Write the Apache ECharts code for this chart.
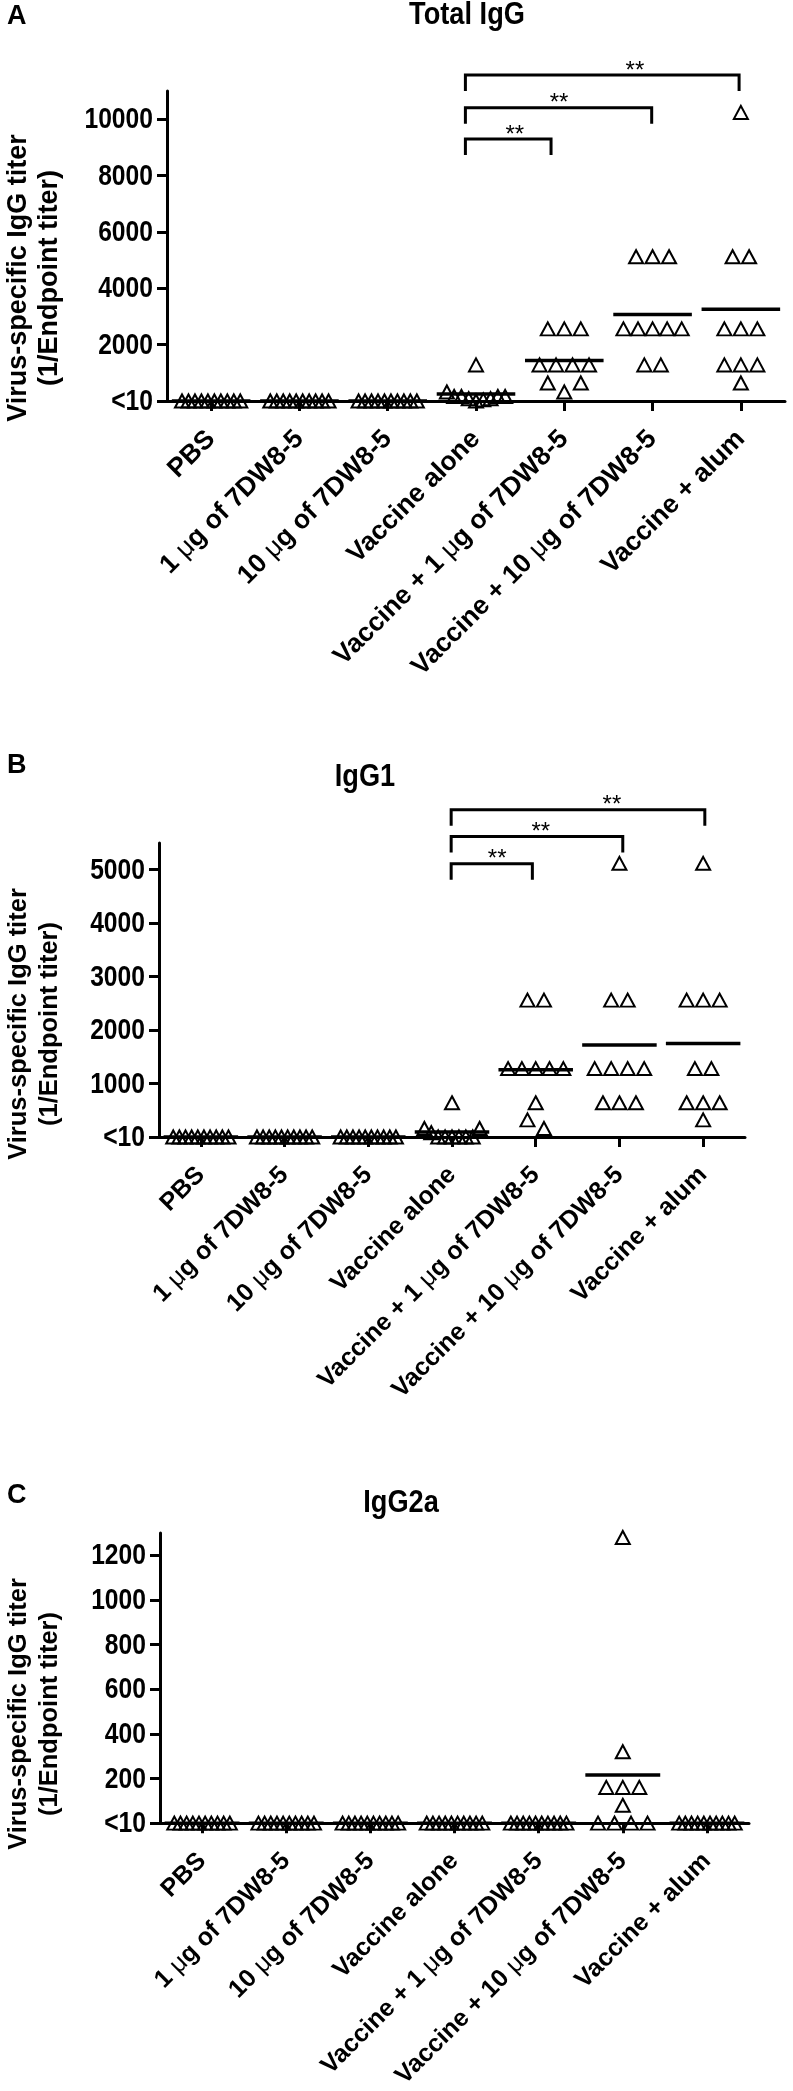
<!DOCTYPE html>
<html><head><meta charset="utf-8">
<script src="https://cdn.jsdelivr.net/npm/echarts@6/dist/echarts.min.js"></script>
<style>html,body{margin:0;padding:0;background:#fff}#c{width:793px;height:2091px}</style>
</head><body><div id="c"></div>
<script>
// ---------------- data ----------------
const categories = ['PBS', '1 μg of 7DW8-5', '10 μg of 7DW8-5', 'Vaccine alone',
  'Vaccine + 1 μg of 7DW8-5', 'Vaccine + 10 μg of 7DW8-5', 'Vaccine + alum'];

// Panel A: Total IgG (0 = "<10")
const totalIgG = [
  [0, 0, 0, 0, 0, 0, 0, 0, 0, 0],
  [0, 0, 0, 0, 0, 0, 0, 0, 0, 0],
  [0, 0, 0, 0, 0, 0, 0, 0, 0, 0],
  [1280, 320, 160, 160, 160, 160, 80, 80, 40, 0],
  [2560, 2560, 2560, 1280, 1280, 1280, 1280, 640, 640, 320],
  [5120, 5120, 5120, 2560, 2560, 2560, 2560, 2560, 1280, 1280],
  [10240, 5120, 5120, 2560, 2560, 2560, 1280, 1280, 1280, 640]
];
const totalIgGMean = [0, 0, 0, 250, 1440, 3070, 3260];

// Panel B: IgG1
const igG1 = [
  [0, 0, 0, 0, 0, 0, 0, 0, 0, 0],
  [0, 0, 0, 0, 0, 0, 0, 0, 0, 0],
  [0, 0, 0, 0, 0, 0, 0, 0, 0, 0],
  [640, 160, 160, 80, 0, 0, 0, 0, 0, 0],
  [2560, 2560, 1280, 1280, 1280, 1280, 1280, 640, 320, 160],
  [5120, 2560, 2560, 1280, 1280, 1280, 1280, 640, 640, 640],
  [5120, 2560, 2560, 2560, 1280, 1280, 640, 640, 640, 320]
];
const igG1Mean = [0, 0, 0, 95, 1260, 1720, 1750];

// Panel C: IgG2a
const igG2a = [
  [0, 0, 0, 0, 0, 0, 0, 0, 0, 0],
  [0, 0, 0, 0, 0, 0, 0, 0, 0, 0],
  [0, 0, 0, 0, 0, 0, 0, 0, 0, 0],
  [0, 0, 0, 0, 0, 0, 0, 0, 0, 0],
  [0, 0, 0, 0, 0, 0, 0, 0, 0, 0],
  [1280, 320, 160, 160, 160, 80, 0, 0, 0, 0],
  [0, 0, 0, 0, 0, 0, 0, 0, 0, 0]
];
const igG2aMean = [0, 0, 0, 0, 0, 216, 0];

// Tick values / labels
const ticksTotal = [0, 2000, 4000, 6000, 8000, 10000];
const tickLabelsTotal = ['<10', '2000', '4000', '6000', '8000', '10000'];
const ticksIgG1 = [0, 1000, 2000, 3000, 4000, 5000];
const tickLabelsIgG1 = ['<10', '1000', '2000', '3000', '4000', '5000'];
const ticksIgG2a = [0, 200, 400, 600, 800, 1000, 1200];
const tickLabelsIgG2a = ['<10', '200', '400', '600', '800', '1000', '1200'];

// Significance brackets: [left end, right end, bar level, star position] (x in group units)
const bracketsTotal = [[3.38, 4.35, 9300, 3.94], [3.38, 5.49, 10410, 4.44], [3.38, 6.48, 11570, 5.30]];
const bracketsIgG1 = [[3.49, 4.46, 5110, 4.04], [3.49, 5.54, 5620, 4.56], [3.49, 6.52, 6120, 5.41]];
const bracketText = '**';
const yTitle = 'Virus-specific IgG titer\n(1/Endpoint titer)';

// ---------------- layout / style ----------------
const SANS = "'Liberation Sans',Arial,Helvetica,sans-serif";
const panels = [
  { letter: 'A', title: 'Total IgG', data: totalIgG, mean: totalIgGMean, ticks: ticksTotal, tickLabels: tickLabelsTotal,
    max: 11000, brackets: bracketsTotal, grid: { left: 167, top: 91, width: 618, height: 310 },
    letterY: 3, titleX: 467, titleY: -1, yTitleY: 278, labelFont: 26.5, yTitleFont: 27 },
  { letter: 'B', title: 'IgG1', data: igG1, mean: igG1Mean, ticks: ticksIgG1, tickLabels: tickLabelsIgG1,
    max: 5500, brackets: bracketsIgG1, grid: { left: 159, top: 843, width: 586, height: 294 },
    letterY: 752, titleX: 365, titleY: 761, yTitleY: 1024, labelFont: 25, yTitleFont: 25.5 },
  { letter: 'C', title: 'IgG2a', data: igG2a, mean: igG2aMean, ticks: ticksIgG2a, tickLabels: tickLabelsIgG2a,
    max: 1300, brackets: [], grid: { left: 160, top: 1533, width: 589, height: 295 },
    letterY: 1482, titleX: 401, titleY: 1487, yTitleY: 1714, labelFont: 25, yTitleFont: 25.5 }
];

const STEP_PX = 16.5, MAX_SPAN = 0.66, ROW_GAP = 12, MEAN_HALF = 0.445, NARROW_SCALE = 0.85;

function layoutGroup(vals, gi, pxPerUnit, bandPx) {
  const sorted = vals.slice().sort((a, b) => b - a);
  const clusters = []; let cur = [];
  sorted.forEach(v => {
    if (cur.length && (cur[cur.length - 1] - v) * pxPerUnit >= ROW_GAP) { clusters.push(cur); cur = []; }
    cur.push(v);
  });
  if (cur.length) clusters.push(cur);
  const pts = [];
  clusters.forEach(c => {
    const n = c.length;
    const step = n > 1 ? Math.min(STEP_PX, MAX_SPAN * bandPx / (n - 1)) : 0;
    const offs = [];
    for (let k = 0; k < n; k++) offs.push((k - (n - 1) / 2) * step);
    offs.sort((a, b) => (Math.abs(b) - Math.abs(a)) || (a - b));
    c.forEach((v, j) => pts.push([gi + 0.5 + offs[j] / bandPx, v]));
  });
  return pts;
}

const grids = [], xAxes = [], yAxes = [], series = [], graphics = [];
panels.forEach((p, k) => {
  grids.push(Object.assign({ containLabel: false }, p.grid));
  const bandPx = p.grid.width / categories.length;
  const pxPerUnit = p.grid.height / p.max;
  xAxes.push({
    type: 'category', gridIndex: k, data: categories, boundaryGap: true,
    axisLine: { lineStyle: { color: '#000', width: 3 } },
    axisTick: { show: true, alignWithLabel: true, length: 10, lineStyle: { color: '#000', width: 3 } },
    axisLabel: {
      interval: 0, rotate: 45, margin: 34, color: '#000',
      fontFamily: SANS, fontWeight: 'bold', fontSize: p.labelFont,
      formatter: v => v.replace('μ', '{m|μ}'),
      rich: { m: { fontFamily: SANS, fontWeight: 'normal', fontSize: p.labelFont, color: '#000' } }
    },
    splitLine: { show: false }
  });
  xAxes.push({ type: 'value', gridIndex: k, min: 0, max: categories.length, show: false });
  yAxes.push({
    type: 'value', gridIndex: k, min: 0, max: p.max, interval: p.ticks[1],
    axisLine: { show: true, lineStyle: { color: '#000', width: 3 } },
    axisTick: { show: true, length: 10, lineStyle: { color: '#000', width: 3 }, customValues: p.ticks },
    axisLabel: { show: false },
    splitLine: { show: false }
  });
  // y tick labels (condensed bold, placed through the y scale)
  series.push({
    type: 'custom', xAxisIndex: 2 * k + 1, yAxisIndex: k, clip: false, z: 5, silent: true,
    data: p.ticks.map(v => [0, v]),
    renderItem: (params, api) => {
      const c = api.coord([0, api.value(1)]);
      return { type: 'text', x: c[0] - 14, y: c[1] + 1, scaleX: NARROW_SCALE,
        style: { text: p.tickLabels[params.dataIndex], align: 'right', verticalAlign: 'middle',
          fontSize: 29, fontWeight: 'bold', fontFamily: SANS, fill: '#000' } };
    }
  });
  // points
  const pts = [];
  p.data.forEach((vals, gi) => layoutGroup(vals, gi, pxPerUnit, bandPx).forEach(q => pts.push(q)));
  series.push({
    type: 'scatter', xAxisIndex: 2 * k + 1, yAxisIndex: k, data: pts, clip: false, z: 4,
    symbol: 'triangle', symbolSize: [14, 13],
    itemStyle: { color: 'rgba(0,0,0,0)', borderColor: '#000', borderWidth: 2, opacity: 1 },
    emphasis: { disabled: true }, silent: true
  });
  // mean lines
  series.push({
    type: 'custom', xAxisIndex: 2 * k + 1, yAxisIndex: k, clip: false, z: 5, silent: true,
    data: p.mean.map((m, i) => [i, m]),
    renderItem: (params, api) => {
      const i = api.value(0), m = api.value(1);
      const a = api.coord([i + 0.5 - MEAN_HALF, m]), b = api.coord([i + 0.5 + MEAN_HALF, m]);
      return { type: 'line', shape: { x1: a[0], y1: a[1], x2: b[0], y2: b[1] }, style: { stroke: '#000', lineWidth: 3.5 } };
    }
  });
  // brackets
  if (p.brackets.length) {
    series.push({
      type: 'custom', xAxisIndex: 2 * k + 1, yAxisIndex: k, clip: false, z: 5, silent: true,
      data: p.brackets.map(b => [b[0], b[2]]),
      renderItem: (params, api) => {
        const b = p.brackets[params.dataIndex];
        const L = api.coord([b[0], b[2]]), R = api.coord([b[1], b[2]]), S = api.coord([b[3], b[2]]);
        const leg = 16;
        return { type: 'group', children: [
          { type: 'polyline', shape: { points: [[L[0], L[1] + leg], [L[0], L[1]], [R[0], R[1]], [R[0], R[1] + leg]] },
            style: { stroke: '#000', lineWidth: 3, fill: null } },
          { type: 'text', x: S[0], y: S[1] - 4,
            style: { text: bracketText, align: 'center', verticalAlign: 'middle', fontSize: 24, fontFamily: SANS, fill: '#000' } }
        ] };
      }
    });
  }
  // texts
  graphics.push({ type: 'text', left: 7, top: p.letterY,
    style: { text: p.letter, fontSize: 27, fontWeight: 'bold', fontFamily: SANS, fill: '#000' } });
  graphics.push({ type: 'text', x: p.titleX, y: p.titleY, scaleX: NARROW_SCALE,
    style: { text: p.title, align: 'center', verticalAlign: 'top', fontSize: 32, fontWeight: 'bold', fontFamily: SANS, fill: '#000' } });
  graphics.push({ type: 'text', x: 34, y: p.yTitleY, rotation: Math.PI / 2,
    style: { text: yTitle, align: 'center', verticalAlign: 'middle',
      fontSize: p.yTitleFont, lineHeight: 31, fontWeight: 'bold', fontFamily: SANS, fill: '#000' } });
});

const chart = echarts.init(document.getElementById('c'), null, { renderer: 'canvas' });
chart.setOption({
  backgroundColor: '#fff', animation: false,
  grid: grids, xAxis: xAxes, yAxis: yAxes, series: series, graphic: graphics
});
</script></body></html>
